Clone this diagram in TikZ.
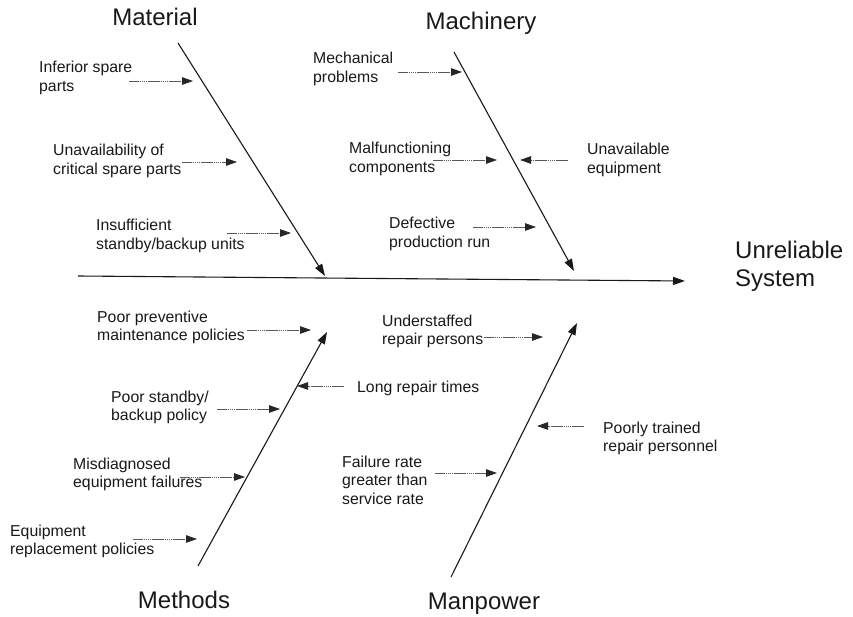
\documentclass[tikz,border=0pt]{standalone}
\usepackage{fontspec}
\setmainfont{Liberation Sans}
\usetikzlibrary{arrows.meta}
\begin{document}
\begin{tikzpicture}[x=1pt,y=-1pt,
  cat/.style={inner sep=0pt,anchor=base,font=\fontsize{24}{28}\selectfont,text=black!90},
  cause/.style={inner sep=0pt,anchor=base west,font=\fontsize{15.8}{18.5}\selectfont,text=black!90},
  bone/.style={line width=1.1pt,black!90,-{Triangle[length=12pt,width=8pt]}},
  sub/.style={line width=0.9pt,black!65,dash pattern=on 1.6pt off 0.5pt,-{Triangle[length=11pt,width=7.5pt,color=black!85]}}]
\useasboundingbox (0,0) rectangle (853,617);
\fill[white] (0,0) rectangle (853,617);
\newcommand\twol[2]{\begin{tabular}[t]{@{}l@{}}#1\\#2\end{tabular}}
\newcommand\threel[3]{\begin{tabular}[t]{@{}l@{}}#1\\#2\\#3\end{tabular}}
% categories
\node[cat] (mat) at (155,26) {Material};
\node[cat] (mach) at (481,30) {Machinery};
\node[cat] (meth) at (184,608) {Methods};
\node[cat] (man) at (484,609) {Manpower};
\node[cat,anchor=base west] (eff) at (735,259) {\begin{tabular}[t]{@{}l@{}}Unreliable\\[-0.5pt]System\end{tabular}};
% spine and bones
\coordinate (s0) at (78,276);
\coordinate (s1) at (685,281);
\draw[bone] (s0) -- (s1);
\coordinate (matT) at (178,43);  \coordinate (matE) at (325,276);
\coordinate (machT) at (454,52); \coordinate (machE) at (574,271);
\coordinate (methB) at (198,566); \coordinate (methE) at (327,332);
\coordinate (manB) at (451,577); \coordinate (manE) at (577,323);
\draw[bone] (matT) -- (matE);
\draw[bone] (machT) -- (machE);
\draw[bone] (methB) -- (methE);
\draw[bone] (manB) -- (manE);
% material causes
\node[cause] (c1) at (39,73) {\twol{Inferior spare}{parts}};
\node[cause] (c2) at (53,156) {\twol{Unavailability of}{critical spare parts}};
\node[cause] (c3) at (96,231) {\twol{Insufficient}{standby/backup units}};
\coordinate (a1) at (129,81);  \coordinate (b1) at (193,81);
\coordinate (a2) at (182,162); \coordinate (b2) at (237,162);
\coordinate (a3) at (227,233); \coordinate (b3) at (291,233);
\draw[sub] (a1) -- (b1);
\draw[sub] (a2) -- (b2);
\draw[sub] (a3) -- (b3);
% machinery causes
\node[cause] (c4) at (313,64) {\twol{Mechanical}{problems}};
\node[cause] (c5) at (349,154) {\twol{Malfunctioning}{components}};
\node[cause] (c6) at (587,155) {\twol{Unavailable}{equipment}};
\node[cause] (c7) at (389,229) {\twol{Defective}{production run}};
\coordinate (a4) at (398,72);  \coordinate (b4) at (462,72);
\coordinate (a5) at (433,160); \coordinate (b5) at (497,160);
\coordinate (a6) at (568,160); \coordinate (b6) at (520,160);
\coordinate (a7) at (473,227); \coordinate (b7) at (536,227);
\draw[sub] (a4) -- (b4);
\draw[sub] (a5) -- (b5);
\draw[sub] (a6) -- (b6);
\draw[sub] (a7) -- (b7);
% methods causes
\node[cause] (c8) at (97,322) {\twol{Poor preventive}{maintenance policies}};
\node[cause] (c9) at (357,392) {Long repair times};
\node[cause] (c10) at (111,402) {\twol{Poor standby/}{backup policy}};
\node[cause] (c11) at (73,469) {\twol{Misdiagnosed}{equipment failures}};
\node[cause] (c12) at (10,536) {\twol{Equipment}{replacement policies}};
\coordinate (a8) at (247,330);  \coordinate (b8) at (311,330);
\coordinate (a9) at (344,386);  \coordinate (b9) at (297,386);
\coordinate (a10) at (217,409); \coordinate (b10) at (280,409);
\coordinate (a11) at (180,477); \coordinate (b11) at (245,477);
\coordinate (a12) at (133,539); \coordinate (b12) at (197,539);
\draw[sub] (a8) -- (b8);
\draw[sub] (a9) -- (b9);
\draw[sub] (a10) -- (b10);
\draw[sub] (a11) -- (b11);
\draw[sub] (a12) -- (b12);
% manpower causes
\node[cause] (c13) at (382,326) {\twol{Understaffed}{repair persons}};
\node[cause] (c14) at (603,433) {\twol{Poorly trained}{repair personnel}};
\node[cause] (c15) at (342,467) {\threel{Failure rate}{greater than}{service rate}};
\coordinate (a13) at (484,337); \coordinate (b13) at (543,337);
\coordinate (a14) at (584,426); \coordinate (b14) at (537,426);
\coordinate (a15) at (435,473); \coordinate (b15) at (497,473);
\draw[sub] (a13) -- (b13);
\draw[sub] (a14) -- (b14);
\draw[sub] (a15) -- (b15);
\end{tikzpicture}
\end{document}
